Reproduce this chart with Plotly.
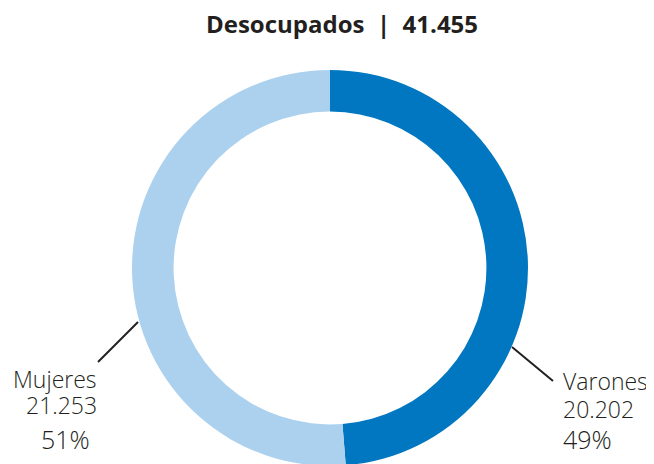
import plotly.graph_objects as go

# data
title_name = "Desocupados"
total = 41455
labels = ["Varones", "Mujeres"]
values = [20202, 21253]
colors = ["#0077C0", "#ABD1EE"]


def fmt(n):
    return f"{n:,}".replace(",", ".")


pcts = [round(v / sum(values) * 100) for v in values]

W, H = 654, 464
OFF = 8  # page body margin
cx, cy, r = 330, 268, 198


def px(x, y):
    # screen pixel -> paper coords
    return (x - OFF) / W, 1 - (y - OFF) / H


dx0, dy1 = px(cx - r, cy - r)
dx1, dy0 = px(cx + r, cy + r)

fig = go.Figure(go.Pie(
    labels=labels, values=values, hole=0.79, sort=False, direction="clockwise",
    rotation=0, marker=dict(colors=colors, line=dict(width=0)),
    textinfo="none", hoverinfo="label+value+percent", showlegend=False,
    domain=dict(x=[dx0, dx1], y=[max(dy0, 0), dy1]),
))

FAM = "Open Sans, Lato, sans-serif"
ink = "#231F20"


def label(x, y, text, anchor, size=23):
    ax, ay = px(x, y)
    fig.add_annotation(xref="paper", yref="paper", x=ax, y=ay, xanchor=anchor,
                       yanchor="middle", showarrow=False, text=text,
                       font=dict(family=FAM, size=size, color=ink, weight=300))


def leader(xa, ya, xb, yb):
    x0, y0 = px(xa, ya)
    x1, y1 = px(xb, yb)
    fig.add_shape(type="line", xref="paper", yref="paper", x0=x0, y0=y0, x1=x1, y1=y1,
                  line=dict(color=ink, width=2))


# Varones (right side)
leader(512, 347, 553, 381)
label(561, 381, labels[0], "left")
label(561, 409, fmt(values[0]), "left")
label(561, 439, f"{pcts[0]}%", "left", 25)

# Mujeres (left side)
leader(138, 322, 98, 362)
label(99, 379, labels[1], "right")
label(99, 405, fmt(values[1]), "right")
label(92, 439, f"{pcts[1]}%", "right", 25)

tx, ty = px(342, 25)
fig.update_layout(
    width=W, height=H,
    margin=dict(l=0, r=0, t=0, b=0),
    paper_bgcolor="white", plot_bgcolor="white",
    title=dict(text=f"<b>{title_name}  |  {fmt(total)}</b>", x=tx, xanchor="center",
               y=ty, yanchor="middle",
               font=dict(family=FAM, size=24, color=ink)),
)

fig.write_html("out.html")
